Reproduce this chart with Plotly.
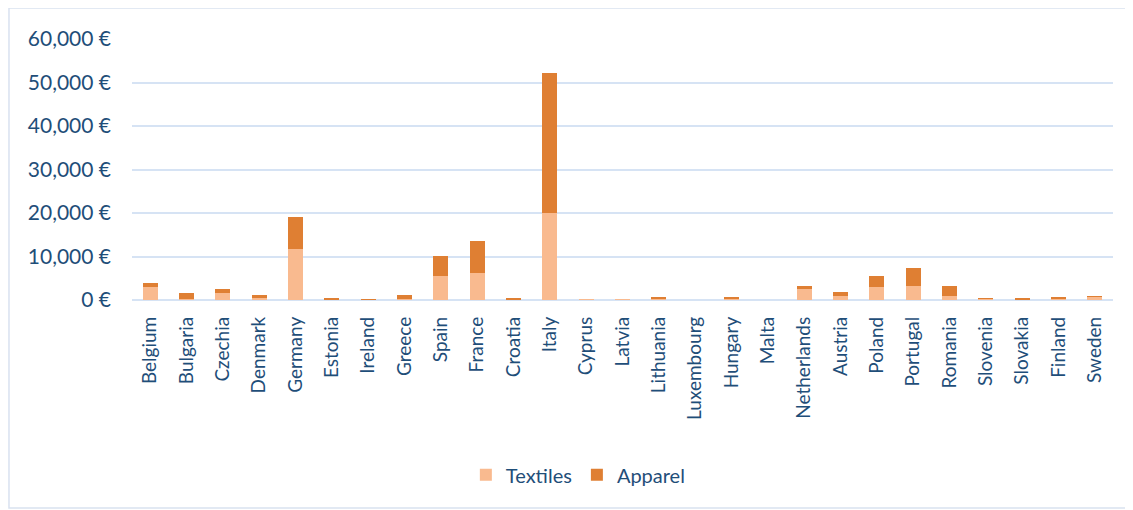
import plotly.graph_objects as go

countries = ["Belgium", "Bulgaria", "Czechia", "Denmark", "Germany", "Estonia",
             "Ireland", "Greece", "Spain", "France", "Croatia", "Italy", "Cyprus",
             "Latvia", "Lithuania", "Luxembourg", "Hungary", "Malta", "Netherlands",
             "Austria", "Poland", "Portugal", "Romania", "Slovenia", "Slovakia",
             "Finland", "Sweden"]
textiles = [3100, 200, 1700, 500, 11800, 100, 100, 200, 5600, 6300, 100, 20100, 20,
            150, 200, 0, 200, 0, 2600, 1000, 3100, 3300, 1000, 400, 100, 300, 800]
apparel = [900, 1500, 900, 700, 7300, 200, 50, 1000, 4500, 7300, 400, 32200, 0,
           0, 600, 0, 600, 0, 700, 900, 2500, 4100, 2300, 50, 400, 500, 50]

font = "Lato"
blue = "#1F4E79"

fig = go.Figure()
fig.add_trace(go.Bar(x=countries, y=textiles, name="Textiles",
                     marker=dict(color="#F9BA8F", line=dict(width=0))))
fig.add_trace(go.Bar(x=countries, y=apparel, name="Apparel",
                     marker=dict(color="#DF7F33", line=dict(width=0))))

# page has an 8px body margin, so the figure is shifted to land on the reference
fig.update_layout(
    barmode="stack",
    bargap=0.58,
    width=1133, height=510,
    margin=dict(l=124, r=28, t=31, b=218),
    paper_bgcolor="white", plot_bgcolor="white",
    font=dict(family=font, size=20, color=blue),
    legend=dict(orientation="h", traceorder="normal", x=0.455, xanchor="center",
                y=-0.67, yanchor="middle", font=dict(size=20, color=blue)),
    xaxis=dict(tickangle=-90, showgrid=False, showline=False,
               tickfont=dict(size=19, color=blue), ticklabelstandoff=12),
    yaxis=dict(range=[0, 60000], dtick=10000, tickformat=",", ticksuffix=" €",
               gridcolor="#D6E3F4", gridwidth=2, zeroline=True,
               zerolinecolor="#D6E3F4", zerolinewidth=2,
               tickfont=dict(size=21, color=blue), ticklabelstandoff=20),
    shapes=[dict(type="rect", xref="paper", yref="paper",
                 x0=-0.1254, x1=1.0143, y0=-0.797, y1=1.1188,
                 line=dict(color="#D9E2F0", width=1.5), layer="below")],
)

fig.write_html("out.html")
